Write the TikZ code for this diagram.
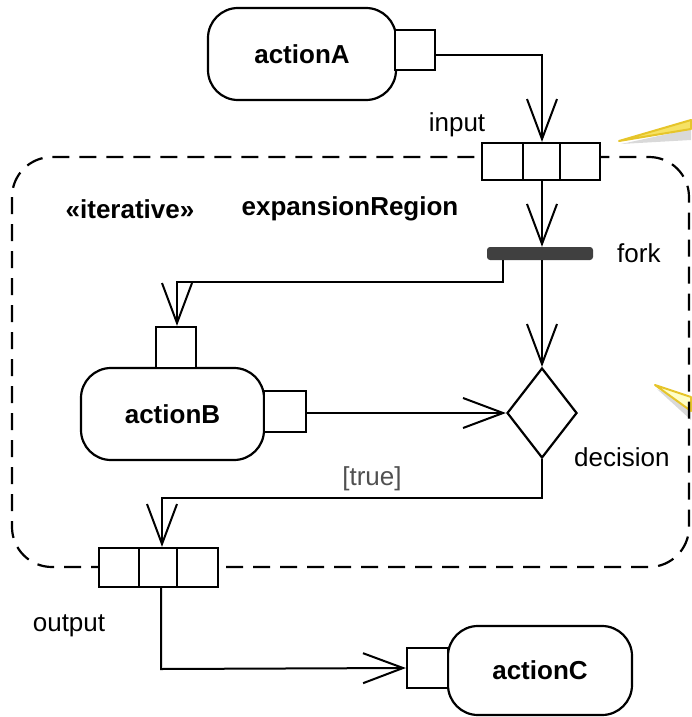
\documentclass[tikz,border=0pt]{standalone}
\usepackage{fontspec}
\setmainfont{Liberation Sans}
\usetikzlibrary{arrows.meta,shapes.geometric}
\definecolor{forkgray}{HTML}{404040}
\definecolor{notefill}{HTML}{FFFFC8}
\definecolor{notefilltop}{HTML}{F6E264}
\definecolor{noteline}{HTML}{E6C52A}
\definecolor{guardgray}{HTML}{505050}
\begin{document}
\begin{tikzpicture}[x=1pt,y=-1pt,
  every node/.style={font=\fontsize{26}{31}\selectfont},
  action/.style={draw,line width=2.2pt,rounded corners=30pt,inner sep=0pt,font=\fontsize{26}{31}\selectfont\bfseries},
  pinbox/.style={draw,line width=2.2pt,inner sep=0pt,fill=white},
  flow/.style={line width=2pt,-{Straight Barb[length=40pt,width=30pt,line width=2pt]}},
  lbl/.style={inner sep=0pt},
  region/.style={line width=2.2pt,dash pattern=on 17pt off 10pt,rounded corners=40pt},
  wedge/.style={draw=noteline,line width=2pt,line join=round},
  wedgeshadow/.style={fill=black,opacity=0.15}
]
\useasboundingbox (0,0) rectangle (691,717);

% callout wedges of notes outside the picture
\fill[wedgeshadow] (621,144) -- (691,129) -- (691,140) -- cycle;
\path[wedge,fill=notefilltop] (619,141) -- (691,120) -- (691,129) -- cycle;
\fill[wedgeshadow] (657,389) -- (691,405) -- (691,420) -- cycle;
\path[wedge,fill=notefill] (655,385) -- (691,397) -- (691,411) -- cycle;

% expansion region
\draw[region] (12,157) rectangle (689,567);
\node[lbl,font=\fontsize{26}{31}\selectfont\bfseries] (iter) at (130,209) {«iterative»};
\node[lbl,font=\fontsize{26}{31}\selectfont\bfseries] (regname) at (350,209) {expansionRegion};

% actions
\node[action,minimum width=188pt,minimum height=92pt] (actionA) at (302,54) {actionA};
\node[pinbox,minimum width=40pt,minimum height=40pt] (pinA) at (415,50) {};

\node[action,minimum width=183pt,minimum height=92pt] (actionB) at (172.5,414) {actionB};
\node[pinbox,minimum width=40pt,minimum height=41pt] (pinBt) at (176,347.5) {};
\node[pinbox,minimum width=42pt,minimum height=41pt] (pinBr) at (285,411.5) {};

\node[action,minimum width=184pt,minimum height=89pt] (actionC) at (540,670.5) {actionC};
\node[pinbox,minimum width=41pt,minimum height=40pt] (pinC) at (427.5,668) {};

% input pins
\node[pinbox,minimum width=41pt,minimum height=37pt] (in1) at (502.5,161.5) {};
\node[pinbox,minimum width=37pt,minimum height=37pt] (in2) at (541.5,161.5) {};
\node[pinbox,minimum width=40pt,minimum height=37pt] (in3) at (580,161.5) {};
\node[lbl,anchor=base] (inlbl) at (457,131) {input};

% output pins
\node[pinbox,minimum width=40pt,minimum height=39pt] (out1) at (119,567.5) {};
\node[pinbox,minimum width=38pt,minimum height=39pt] (out2) at (158,567.5) {};
\node[pinbox,minimum width=41pt,minimum height=39pt] (out3) at (197.5,567.5) {};
\node[lbl,anchor=base] (outlbl) at (69,631) {output};

% fork
\node[fill=forkgray,rounded corners=3pt,minimum width=106pt,minimum height=13pt,inner sep=0pt] (fork) at (540,253.5) {};
\node[lbl,anchor=base west] (forklbl) at (617,262) {fork};

% decision
\node[draw,diamond,line width=2.2pt,minimum width=70pt,minimum height=90pt,inner sep=0pt] (dec) at (542,413) {};
\node[lbl,anchor=base west] (declbl) at (574,466) {decision};

\node[lbl,anchor=base,text=guardgray] (guard) at (372,485) {[true]};

% coordinates for bends
\coordinate (a1) at (542,55);
\coordinate (f1) at (503,282);
\coordinate (f2) at (177,282);
\coordinate (d1) at (542,498);
\coordinate (d2) at (162,498);
\coordinate (o1) at (161,669);

% flows
\draw[flow] ([yshift=-5pt]pinA.east) -- (a1) -- (a1 |- in2.north);
\draw[flow] (in2.south -| a1) -- (a1 |- fork.north);
\draw[flow] (fork.south -| a1) -- (dec.north);
\draw[flow] (fork.south -| f1) -- (f1) -- (f2) -- (f2 |- pinBt.north);
\draw[flow] ([yshift=-1.5pt]pinBr.east) -- (dec.west);
\draw[flow] (dec.south) -- (d1) -- (d2) -- (d2 |- out2.north);
\draw[flow] (out2.south -| o1) -- (o1) -- (pinC.west);
\end{tikzpicture}
\end{document}
